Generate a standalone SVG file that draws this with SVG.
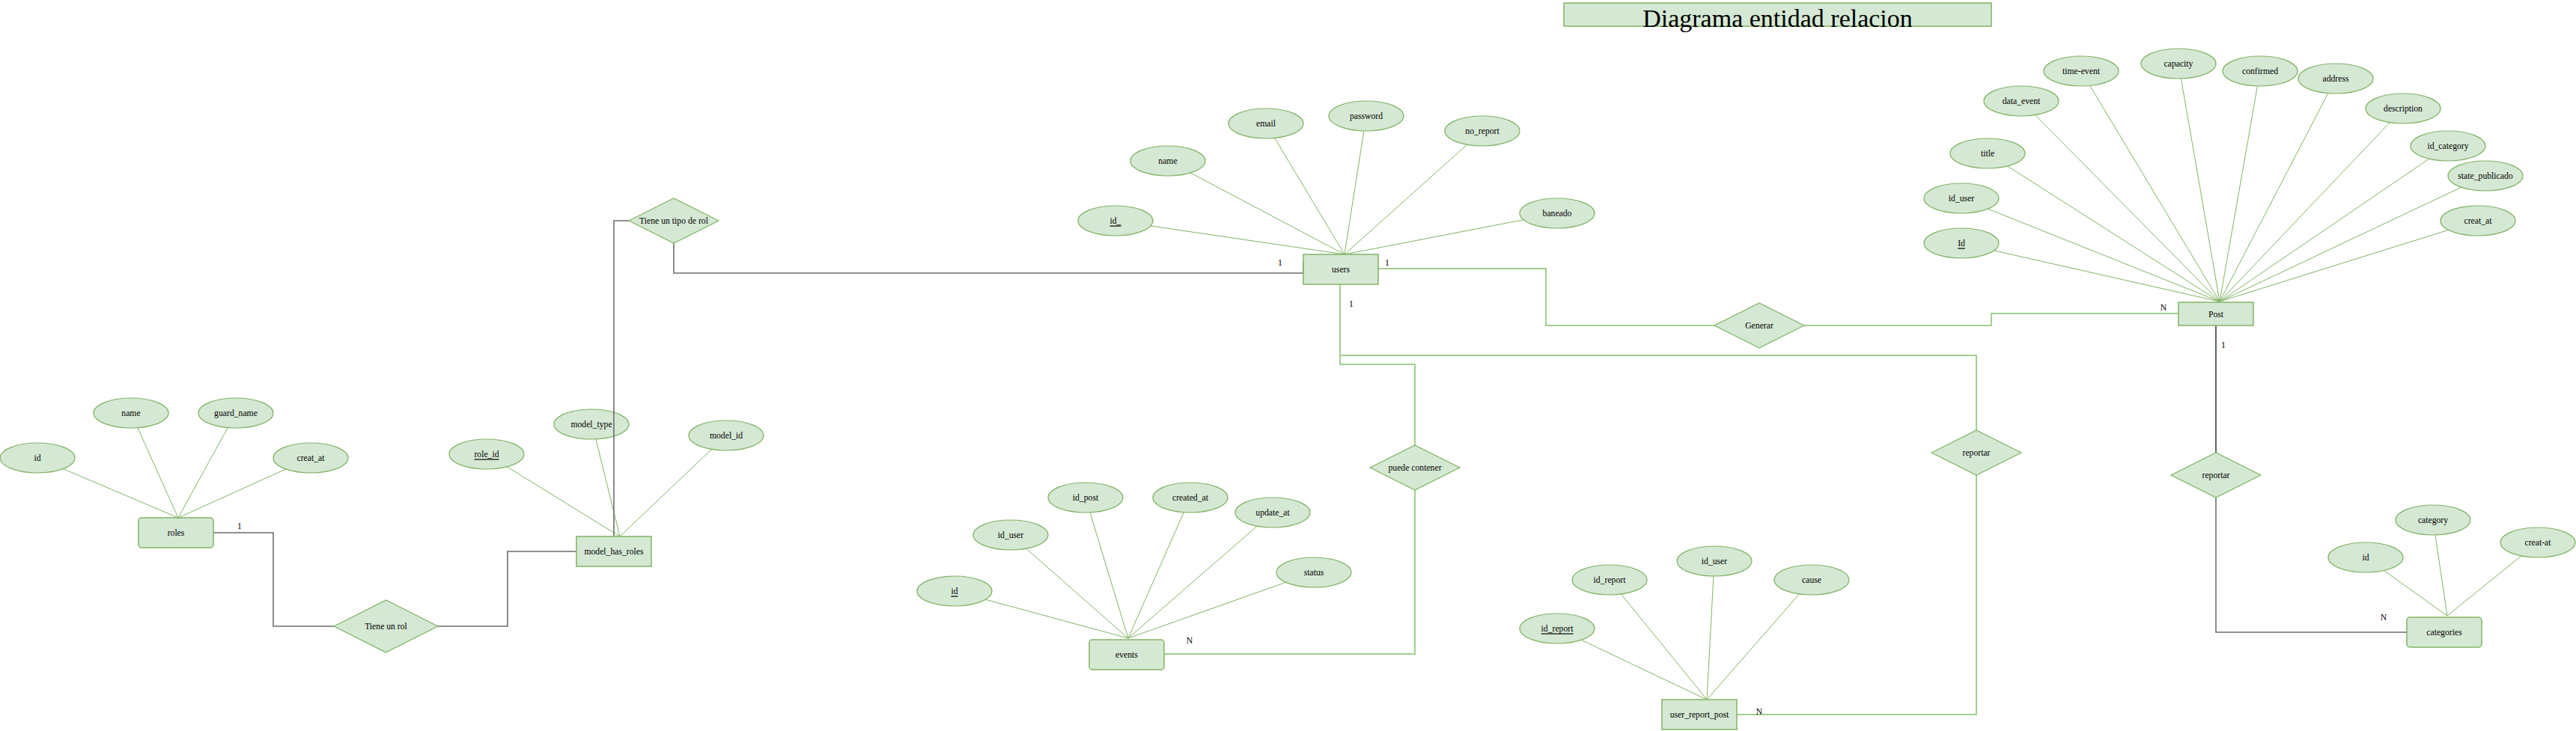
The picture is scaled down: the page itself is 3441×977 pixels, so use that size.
<svg xmlns="http://www.w3.org/2000/svg" width="3441" height="977" viewBox="0 0 3441 977">
<style>
text{font-family:"Liberation Serif","Times New Roman",serif;font-size:11.7px;fill:#000;text-anchor:middle;dominant-baseline:central}
.ent{fill:#d5e8d4;stroke:#82b366;stroke-width:1.5}
.att{fill:#d5e8d4;stroke:#82b366;stroke-width:1.2}
.rel{fill:#d5e8d4;stroke:#82b366;stroke-width:1.2}
.al{stroke:#82b366;stroke-width:1;fill:none}
.gl{stroke:#a4cd90;stroke-width:2;fill:none}
.dl{stroke:#6e6e6e;stroke-width:1.6;fill:none}
.bl{stroke:#000;stroke-width:1.2;fill:none}
.u{text-decoration:underline}
</style>
<rect width="3441" height="977" fill="#fff"/>
<g id="title">
<rect x="2089" y="4" width="571" height="31" fill="#d5e8d4" stroke="#82b366" stroke-width="1.5"/>
<text x="2374.5" y="24" style="font-size:34px">Diagrama entidad relacion</text>
</g>
<g id="mhr-model_type"><ellipse class="att" cx="790" cy="567" rx="50" ry="20"/><text x="790" y="567">model_type</text></g>
<g id="connectors">
<path class="al" d="M50,612L238,692M175,552L238,692M315,552L238,692M415,612L238,692"/>
<path class="al" d="M650,607L828,717M796,587L828,717M970,582L828,717"/>
<path class="al" d="M1490,295L1796,340M1560,215L1796,340M1691,165L1796,340M1825,155L1796,340M1980,175L1796,340M2080,285L1796,340"/>
<path class="al" d="M2620,325L2965,403M2620,265L2965,403M2655,205L2965,403M2700,135L2965,403M2780,95L2965,403M2910,85L2965,403M3019,95L2965,403M3120,105L2965,403M3210,145L2965,403M3270,195L2965,403M3320,235L2965,403M3310,295L2965,403"/>
<path class="al" d="M1275,790L1507,853M1350,715L1507,853M1450,665L1507,853M1590,665L1507,853M1700,685L1507,853M1755,765L1507,853"/>
<path class="al" d="M2080,840L2280,935M2150,775L2280,935M2290,750L2280,935M2420,775L2280,935"/>
<path class="al" d="M3160,745L3269,823M3250,695L3269,823M3390,725L3269,823"/>
<path class="dl" d="M285,712H365V837H446"/>
<path class="dl" d="M585,837H678V737H770"/>
<path class="dl" d="M820,717V295H840"/>
<path class="dl" d="M900,325V365H1741V350"/>
<path class="gl" d="M1841,359H2065V435H2290"/>
<path class="gl" d="M2410,435H2660V419H2910"/>
<path class="gl" d="M1790,380V475H2640V575"/>
<path class="gl" d="M1790,475V487H1890V595"/>
<path class="gl" d="M1890,655V874H1555"/>
<path class="gl" d="M2640,635V955H2320"/>
<path class="bl" d="M2960,435V605"/>
<path class="dl" d="M2960,665V845H3215"/>
</g>
<g id="labels">
<text x="320" y="703">1</text>
<text x="1710" y="351">1</text>
<text x="1853" y="351">1</text>
<text x="1805" y="406">1</text>
<text x="2890" y="411">N</text>
<text x="1589" y="856">N</text>
<text x="2350" y="951">N</text>
<text x="2970" y="461">1</text>
<text x="3184" y="825">N</text>
</g>
<g id="roles"><rect class="ent" x="185" y="692" width="100" height="40" rx="4"/><text x="235" y="712">roles</text></g>
<g id="roles-id"><ellipse class="att" cx="50" cy="612" rx="50" ry="20"/><text x="50" y="612">id</text></g>
<g id="roles-name"><ellipse class="att" cx="175" cy="552" rx="50" ry="20"/><text x="175" y="552">name</text></g>
<g id="roles-guard_name"><ellipse class="att" cx="315" cy="552" rx="50" ry="20"/><text x="315" y="552">guard_name</text></g>
<g id="roles-creat_at"><ellipse class="att" cx="415" cy="612" rx="50" ry="20"/><text x="415" y="612">creat_at</text></g>
<g id="tiene-un-rol"><polygon class="rel" points="446,837 515.5,802 585,837 515.5,872"/><text x="515.5" y="837">Tiene un rol</text></g>
<g id="model_has_roles"><rect class="ent" x="770" y="717" width="100" height="40"/><text x="820" y="737">model_has_roles</text></g>
<g id="mhr-role_id"><ellipse class="att" cx="650" cy="607" rx="50" ry="20"/><text class="u" x="650" y="607">role_id</text></g>
<g id="mhr-model_id"><ellipse class="att" cx="970" cy="582" rx="50" ry="20"/><text x="970" y="582">model_id</text></g>
<g id="tiene-un-tipo-de-rol"><polygon class="rel" points="840,295 900,265 960,295 900,325"/><text x="900" y="295">Tiene un tipo de rol</text></g>
<g id="users"><rect class="ent" x="1741" y="340" width="100" height="40"/><text x="1791" y="360">users</text></g>
<g id="users-id"><ellipse class="att" cx="1490" cy="295" rx="50" ry="20"/><text class="u" x="1490" y="295">id_</text></g>
<g id="users-name"><ellipse class="att" cx="1560" cy="215" rx="50" ry="20"/><text x="1560" y="215">name</text></g>
<g id="users-email"><ellipse class="att" cx="1691" cy="165" rx="50" ry="20"/><text x="1691" y="165">email</text></g>
<g id="users-password"><ellipse class="att" cx="1825" cy="155" rx="50" ry="20"/><text x="1825" y="155">password</text></g>
<g id="users-no_report"><ellipse class="att" cx="1980" cy="175" rx="50" ry="20"/><text x="1980" y="175">no_report</text></g>
<g id="users-baneado"><ellipse class="att" cx="2080" cy="285" rx="50" ry="20"/><text x="2080" y="285">baneado</text></g>
<g id="generar"><polygon class="rel" points="2290,435 2350,405 2410,435 2350,465"/><text x="2350" y="435">Generar</text></g>
<g id="post"><rect class="ent" x="2910" y="404" width="100" height="31"/><text x="2960" y="420">Post</text></g>
<g id="post-id"><ellipse class="att" cx="2620" cy="325" rx="50" ry="20"/><text class="u" x="2620" y="325">Id</text></g>
<g id="post-id_user"><ellipse class="att" cx="2620" cy="265" rx="50" ry="20"/><text x="2620" y="265">id_user</text></g>
<g id="post-title"><ellipse class="att" cx="2655" cy="205" rx="50" ry="20"/><text x="2655" y="205">title</text></g>
<g id="post-data_event"><ellipse class="att" cx="2700" cy="135" rx="50" ry="20"/><text x="2700" y="135">data_event</text></g>
<g id="post-time-event"><ellipse class="att" cx="2780" cy="95" rx="50" ry="20"/><text x="2780" y="95">time-event</text></g>
<g id="post-capacity"><ellipse class="att" cx="2910" cy="85" rx="50" ry="20"/><text x="2910" y="85">capacity</text></g>
<g id="post-confirmed"><ellipse class="att" cx="3019" cy="95" rx="50" ry="20"/><text x="3019" y="95">confirmed</text></g>
<g id="post-address"><ellipse class="att" cx="3120" cy="105" rx="50" ry="20"/><text x="3120" y="105">address</text></g>
<g id="post-description"><ellipse class="att" cx="3210" cy="145" rx="50" ry="20"/><text x="3210" y="145">description</text></g>
<g id="post-id_category"><ellipse class="att" cx="3270" cy="195" rx="50" ry="20"/><text x="3270" y="195">id_category</text></g>
<g id="post-state_publicado"><ellipse class="att" cx="3320" cy="235" rx="50" ry="20"/><text x="3320" y="235">state_publicado</text></g>
<g id="post-creat_at"><ellipse class="att" cx="3310" cy="295" rx="50" ry="20"/><text x="3310" y="295">creat_at</text></g>
<g id="puede-contener"><polygon class="rel" points="1830,625 1890,595 1950,625 1890,655"/><text x="1890" y="625">puede contener</text></g>
<g id="events"><rect class="ent" x="1455" y="855" width="100" height="40" rx="4"/><text x="1505" y="875">events</text></g>
<g id="events-id"><ellipse class="att" cx="1275" cy="790" rx="50" ry="20"/><text class="u" x="1275" y="790">id</text></g>
<g id="events-id_user"><ellipse class="att" cx="1350" cy="715" rx="50" ry="20"/><text x="1350" y="715">id_user</text></g>
<g id="events-id_post"><ellipse class="att" cx="1450" cy="665" rx="50" ry="20"/><text x="1450" y="665">id_post</text></g>
<g id="events-created_at"><ellipse class="att" cx="1590" cy="665" rx="50" ry="20"/><text x="1590" y="665">created_at</text></g>
<g id="events-update_at"><ellipse class="att" cx="1700" cy="685" rx="50" ry="20"/><text x="1700" y="685">update_at</text></g>
<g id="events-status"><ellipse class="att" cx="1755" cy="765" rx="50" ry="20"/><text x="1755" y="765">status</text></g>
<g id="reportar-users"><polygon class="rel" points="2580,605 2640,575 2700,605 2640,635"/><text x="2640" y="605">reportar</text></g>
<g id="user_report_post"><rect class="ent" x="2220" y="935" width="100" height="40"/><text x="2270" y="955">user_report_post</text></g>
<g id="urp-id_report-key"><ellipse class="att" cx="2080" cy="840" rx="50" ry="20"/><text class="u" x="2080" y="840">id_report</text></g>
<g id="urp-id_report"><ellipse class="att" cx="2150" cy="775" rx="50" ry="20"/><text x="2150" y="775">id_report</text></g>
<g id="urp-id_user"><ellipse class="att" cx="2290" cy="750" rx="50" ry="20"/><text x="2290" y="750">id_user</text></g>
<g id="urp-cause"><ellipse class="att" cx="2420" cy="775" rx="50" ry="20"/><text x="2420" y="775">cause</text></g>
<g id="reportar-post"><polygon class="rel" points="2900,635 2960,605 3020,635 2960,665"/><text x="2960" y="635">reportar</text></g>
<g id="categories"><rect class="ent" x="3215" y="825" width="100" height="40" rx="4"/><text x="3265" y="845">categories</text></g>
<g id="cat-id"><ellipse class="att" cx="3160" cy="745" rx="50" ry="20"/><text x="3160" y="745">id</text></g>
<g id="cat-category"><ellipse class="att" cx="3250" cy="695" rx="50" ry="20"/><text x="3250" y="695">category</text></g>
<g id="cat-creat-at"><ellipse class="att" cx="3390" cy="725" rx="50" ry="20"/><text x="3390" y="725">creat-at</text></g>
</svg>
